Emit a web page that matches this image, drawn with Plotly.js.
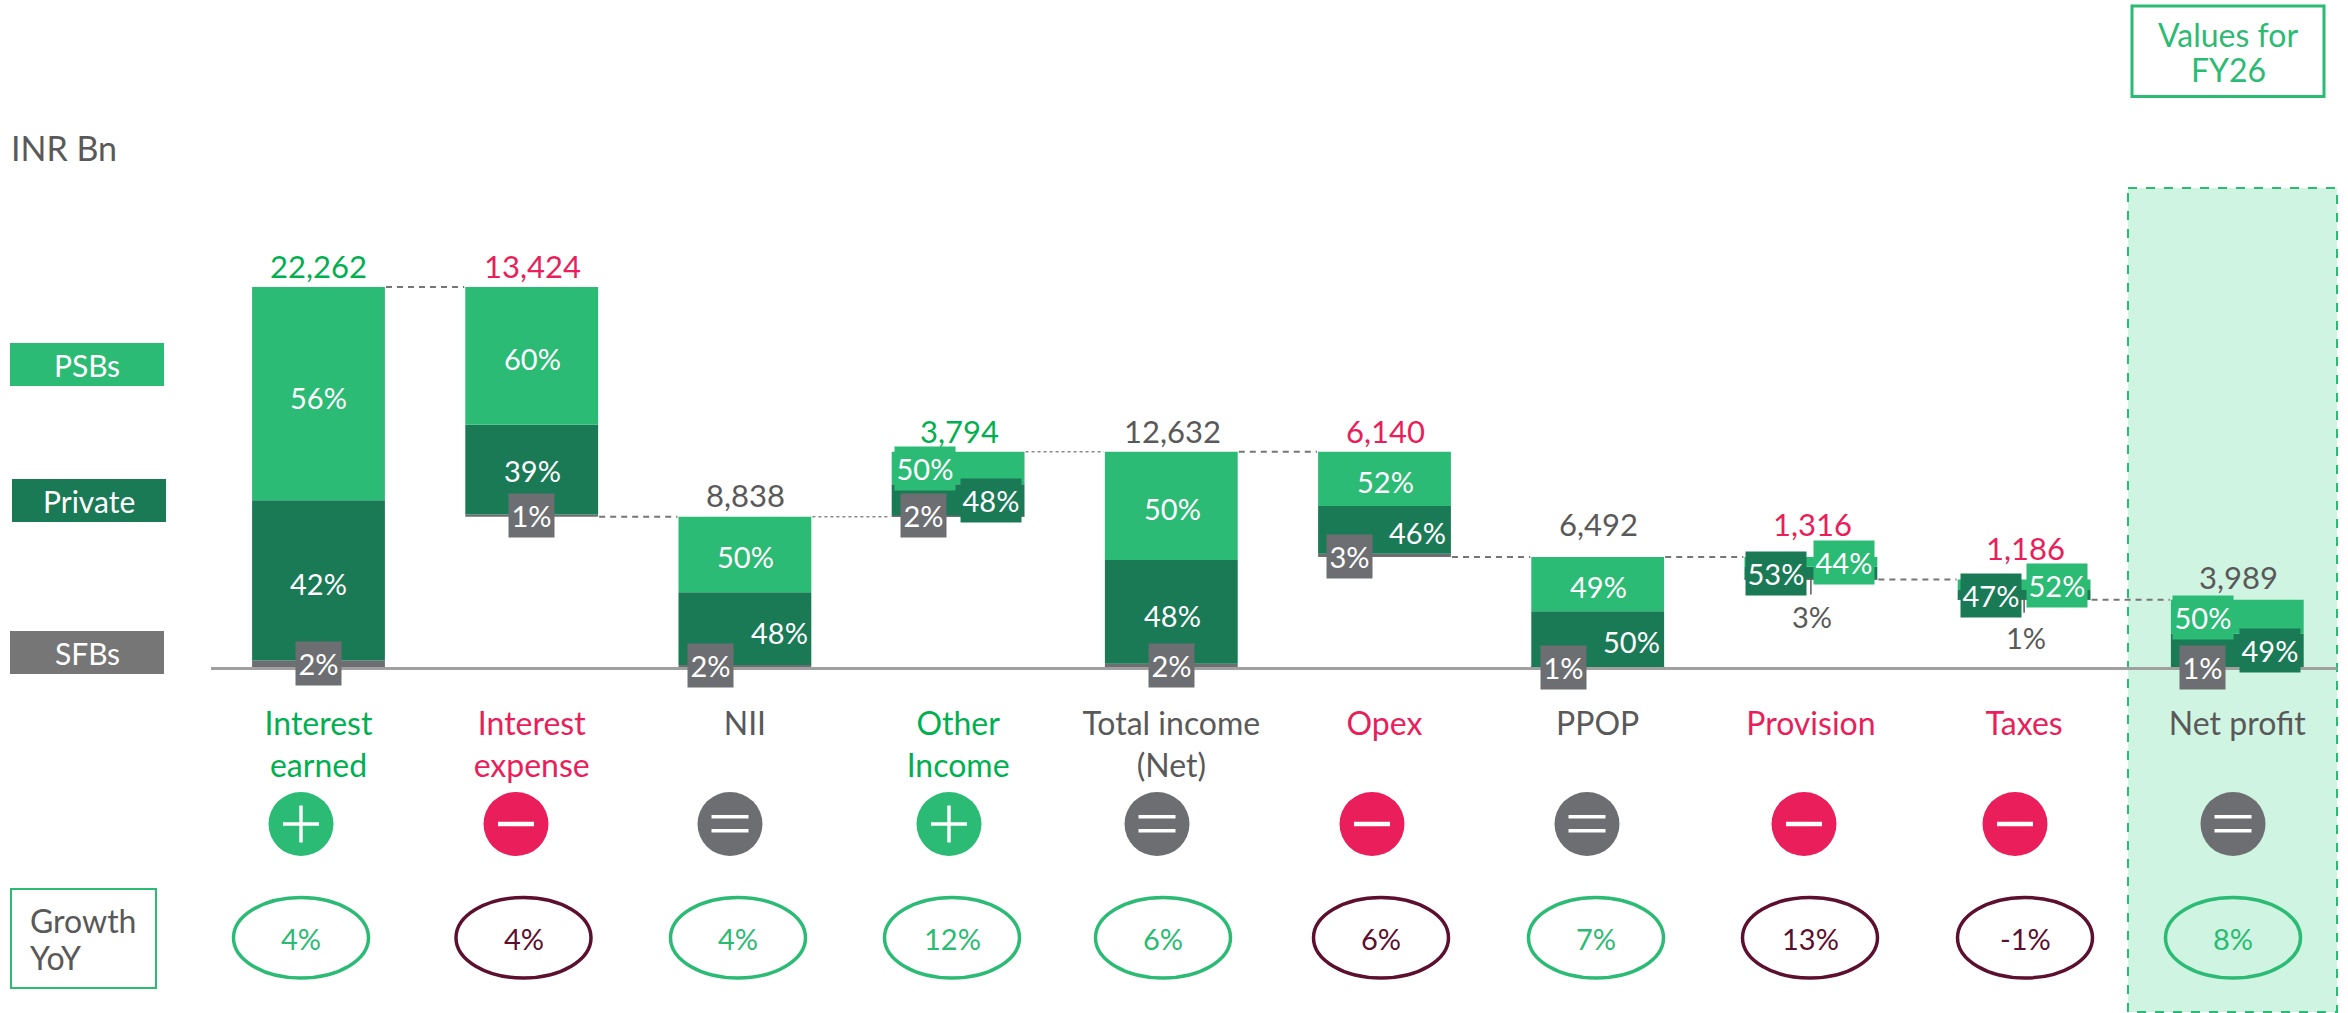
<!DOCTYPE html>
<html><head><meta charset="utf-8">
<script src="https://cdn.plot.ly/plotly-3.0.1.min.js"></script>
<style>html,body{margin:0;padding:0;background:#fff}#c{width:2348px;height:1013px}</style>
</head><body><div id="c"></div>
<script>
// ---- data ----
const categories = ['Interest<br>earned','Interest<br>expense','NII','Other<br>Income','Total income<br>(Net)','Opex','PPOP','Provision','Taxes','Net profit'];
const totals     = [22262,13424,8838,3794,12632,6140,6492,1316,1186,3989];
const bases      = [0,8838,0,8838,0,6492,0,5176,3990,0];
const psbShare   = [56,60,50,50,50,52,49,44,52,50];
const privShare  = [42,39,48,48,48,46,50,53,47,49];
const sfbShare   = [2,1,2,2,2,3,1,3,1,1];
const growth     = [4,4,4,12,6,6,7,13,-1,8];
const kinds      = ['add','sub','eq','add','eq','sub','eq','sub','sub','eq'];
const connectorLevels = [22262,8838,8838,12632,12632,6492,6492,5176,3990];
const connectorDotted = [false,false,true,true,false,false,false,false,false];

// ---- styling / placement (pixels on the 2348x1013 page) ----
const W=2348,H=1013, X0=318.5, STEP=213.2, BASEY=668, PXPER=381/22262, BARW=0.623;
const FONT='Lato, sans-serif';
const C={psb:'#2BBB74',priv:'#1A7A56',sfb:'#6D6E71',legendSfb:'#767676',grey:'#595959',green:'#00B050',red:'#E91E5A',maroon:'#5C0F2E',band:'#D0F4E2'};
const labelY=[266,266,495,431,431,431,524,524,548,577];
const labelX=[318,532,745,959,1172,1385,1598,1812,2026,2238];
const psbPos =[[318,397],[532,358],[745,556],[925,468],[1172,508],[1385,481],[1598,586],[1844,562],[2057,585.5],[2203,617.5]];
const privPos=[[318,583],[532,471],[779,632],[991,500],[1172,615],[1417,532],[1631,641],[1776,573.5],[1991,595],[2270,650]];
const sfbPos =[[318.5,663.5],[531.5,515.5],[710,665],[923.5,515.5],[1171.5,665.5],[1350,556.5],[1563,667],[1812,616],[2026,637],[2202,667]];
const psbBoxed =[0,0,0,1,0,0,0,1,1,1], privBoxed=[0,0,0,1,0,0,0,1,1,1], sfbPlain=[0,0,0,0,0,0,0,1,1,0];
const opX=[301,516,730,949,1157,1372,1587,1804,2015,2233];
const growX=[301,523.5,738,952,1163,1381,1596,1810,2025,2233];

const norm=i=>psbShare[i]+privShare[i]+sfbShare[i];
const sfbV = totals.map((t,i)=>t*sfbShare[i]/norm(i));
const privV= totals.map((t,i)=>t*privShare[i]/norm(i));
const psbV = totals.map((t,i)=>t*psbShare[i]/norm(i));
const idx = totals.map((_,i)=>i);
const bar=(name,y,base,color)=>({type:'bar',name,x:idx,y,base,width:BARW,marker:{color,line:{width:0}},hoverinfo:'name+y',showlegend:false});
const traces=[
  bar('SFBs',sfbV,bases,C.sfb),
  bar('Private',privV,bases.map((b,i)=>b+sfbV[i]),C.priv),
  bar('PSBs',psbV,bases.map((b,i)=>b+sfbV[i]+privV[i]),C.psb)
];

const px=x=>x/W, py=y=>1-y/H;
const rect=(x0,y0,x1,y1,o)=>Object.assign({type:'rect',xref:'paper',yref:'paper',x0:px(x0),x1:px(x1),y0:py(y0),y1:py(y1),layer:'below'},o);
const shapes=[];
// FY26 highlight band
shapes.push(rect(2128,188,2337,1012,{fillcolor:C.band,line:{color:C.psb,width:2,dash:'dash'}}));
// connectors between bars
connectorLevels.forEach((lv,i)=>{
  shapes.push({type:'line',xref:'x',yref:'y',x0:i+BARW/2+0.005,x1:i+1-BARW/2-0.005,y0:lv,y1:lv,layer:'below',
    line:connectorDotted[i]?{color:'#8a8a8a',width:1.5,dash:'dot'}:{color:'#767676',width:2,dash:'6px,5px'}});
});
// leader lines for outside SFB labels
[7,8].forEach(i=>{shapes.push({type:'line',xref:'x',yref:'y',x0:i,x1:i,y0:bases[i],y1:bases[i]-(i==7?15:13)/PXPER,layer:'above',line:{color:C.grey,width:1.5}});});
// operator circles and glyphs
kinds.forEach((k,i)=>{
  const cx=opX[i],cy=824,col=k=='add'?C.psb:k=='sub'?C.red:C.sfb;
  shapes.push({type:'circle',xref:'paper',yref:'paper',x0:px(cx-32.5),x1:px(cx+32.5),y0:py(cy+32),y1:py(cy-32),fillcolor:col,line:{width:0},layer:'above'});
  const g=(x0,y0,x1,y1)=>shapes.push(rect(x0,y0,x1,y1,{fillcolor:'#fff',line:{width:0},layer:'above'}));
  if(k=='add'){g(cx-18,cy-1.7,cx+18,cy+1.7);g(cx-1.7,cy-18.5,cx+1.7,cy+18.5);}
  if(k=='sub'){g(cx-18,cy-2.3,cx+18,cy+2.3);}
  if(k=='eq'){g(cx-18.5,cy-9,cx+18.5,cy-5.5);g(cx-18.5,cy+5,cx+18.5,cy+8.5);}
});
// growth ellipses
growth.forEach((v,i)=>{
  const col=(kinds[i]=='sub')?C.maroon:C.psb;
  shapes.push({type:'circle',xref:'paper',yref:'paper',x0:px(growX[i]-67.5),x1:px(growX[i]+67.5),y0:py(978),y1:py(897.5),line:{color:col,width:3.5},layer:'above'});
});
// boxes
shapes.push(rect(11,889,156,988,{line:{color:C.psb,width:2},layer:'above'}));
shapes.push(rect(2132,6,2324,96.5,{line:{color:C.psb,width:3},layer:'above'}));

const ann=[];
const PCT=29;
const T=(text,x,y,size,color,o)=>ann.push(Object.assign({text,xref:'paper',yref:'paper',x:px(x),y:py(y),xanchor:'center',yanchor:'middle',showarrow:false,font:{family:FONT,size,color}},o||{}));
const box=(text,x,y,bg,w,h)=>T(text,x,y,PCT,'#fff',{bgcolor:bg,width:w,height:h,borderpad:0,align:'center',valign:'middle'});
// value labels
totals.forEach((t,i)=>{
  const col=kinds[i]=='add'?C.green:kinds[i]=='sub'?C.red:C.grey;
  T(t.toLocaleString('en-US'),labelX[i],labelY[i],31,col);
  if(psbBoxed[i]) box(psbShare[i]+'%',psbPos[i][0],psbPos[i][1],C.psb,60,43); else T(psbShare[i]+'%',psbPos[i][0],psbPos[i][1],PCT,'#fff');
  if(privBoxed[i]) box(privShare[i]+'%',privPos[i][0],privPos[i][1],C.priv,60,43); else T(privShare[i]+'%',privPos[i][0],privPos[i][1],PCT,'#fff');
  if(sfbPlain[i]) T(sfbShare[i]+'%',sfbPos[i][0],sfbPos[i][1],PCT,C.grey); else box(sfbShare[i]+'%',sfbPos[i][0],sfbPos[i][1],C.sfb,45,43);
  const col2=kinds[i]=='sub'?C.maroon:C.psb;
  T(growth[i]+'%',growX[i],938,PCT,col2);
});
// legend
const leg=(text,x0,x1,y0,y1,bg)=>{shapes.push(rect(x0,y0,x1,y1,{fillcolor:bg,line:{width:0},layer:'above'}));T(text,(x0+x1)/2,(y0+y1)/2,30,'#fff');};
leg('PSBs',10,164,343,386,C.psb);
leg('Private',12,166,479,522,C.priv);
leg('SFBs',10,164,631,674,C.legendSfb);
T('INR Bn',9,148,34,C.grey,{xanchor:'left'});
T('Growth',28,920,32,C.grey,{xanchor:'left'});
T('YoY',28,957,32,C.grey,{xanchor:'left'});
T('Values for',2228,34,32,C.psb);
T('FY26',2228,70,32,C.psb);

const tickColors=kinds.map(k=>k=='add'?C.green:k=='sub'?C.red:C.grey);
const layout={
  width:W,height:H,margin:{l:0,r:0,t:0,b:0},paper_bgcolor:'#fff',plot_bgcolor:'rgba(0,0,0,0)',barmode:'overlay',showlegend:false,
  font:{family:FONT},
  xaxis:{type:'linear',domain:[211/W,2337/W],range:[(211-X0)/STEP,(2337-X0)/STEP],anchor:'free',position:(H-BASEY)/H,
    showline:true,linecolor:'#A0A0A0',linewidth:3,showgrid:false,zeroline:false,ticks:'',
    tickmode:'array',tickvals:idx,ticktext:categories.map((c,i)=>`<span style="color:${tickColors[i]}">${c.replace('<br>',`</span><br><span style="color:${tickColors[i]}">`)}</span>`),
    tickfont:{family:FONT,size:32,color:C.grey},ticklabelstandoff:27,tickangle:0,fixedrange:true},
  yaxis:{type:'linear',domain:[0,1],range:[(BASEY-H)/PXPER,BASEY/PXPER],visible:false,fixedrange:true},
  shapes,annotations:ann
};
Plotly.newPlot('c',traces,layout,{displayModeBar:false,staticPlot:false});
</script></body></html>
